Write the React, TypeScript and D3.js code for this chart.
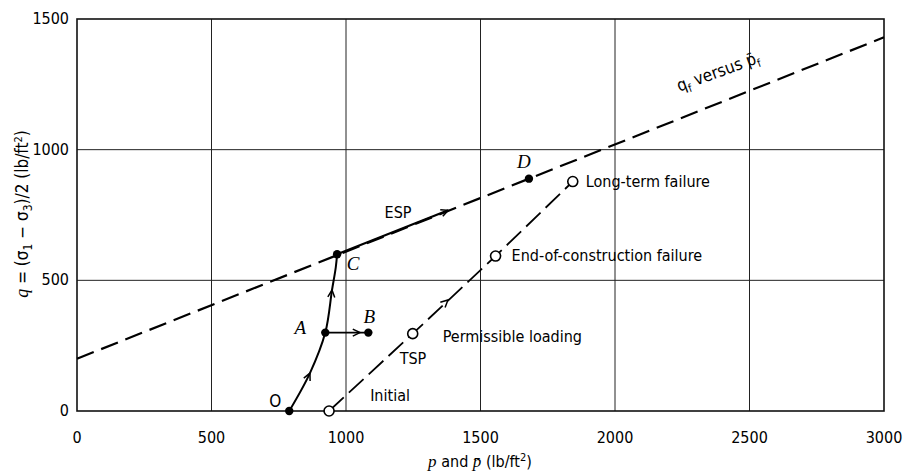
import * as d3 from 'd3';

// axis ticks
const xTicks = [0, 500, 1000, 1500, 2000, 2500, 3000];
const yTicks = [0, 500, 1000, 1500];

// failure envelope q_f versus p_f
const envelopeP = [0, 3000];
const envelopeQ = [200, 1430];

// effective stress path O -> A -> C
const espP = [789, 866, 923, 948, 962, 967];
const espQ = [0, 145, 300, 463, 550, 600];
// ESP continuing along the envelope from C
const espFailP = [967, 1380];
const espFailQ = [600, 768];

// A -> B
const abP = [923, 1083];
const abQ = [300, 300];

// total stress path
const tspP = [937, 1248, 1556, 1843];
const tspQ = [0, 296, 593, 878];
const tspNames = ['Initial', 'Permissible loading', 'End-of-construction failure', 'Long-term failure'];

// point D on the envelope
const dP = 1680;
const dQ = 889;

// arrows: position and direction in data units
const arrowP = [866, 948, 1052, 1380, 1379];
const arrowQ = [145, 463, 300, 768, 425];
const arrowDP = [134, 30, 1, 1, 906];
const arrowDQ = [300, 300, 0, 0.41, 878];

const W = 903;
const H = 472;
const FONT = '"DejaVu Sans Condensed", "Liberation Sans Narrow", "Liberation Sans", sans-serif';
const SERIF = '"Liberation Serif", "DejaVu Serif", serif';

const App = () => {
  const x = d3.scaleLinear().domain([0, 3000]).range([77, 884]);
  const y = d3.scaleLinear().domain([0, 1500]).range([411, 19]);

  const line = d3.line<number>()
    .x(i => x(espP[i]))
    .y(i => y(espQ[i]))
    .curve(d3.curveCatmullRom.alpha(0.5));

  const straight = (ps: number[], qs: number[]) =>
    d3.line<number>().x(i => x(ps[i])).y(i => y(qs[i]))(ps.map((_, i) => i)) || '';

  const arrowPath = (i: number) => {
    const px = x(arrowP[i]);
    const py = y(arrowQ[i]);
    const dx = x(arrowP[i] + arrowDP[i]) - px;
    const dy = y(arrowQ[i] + arrowDQ[i]) - py;
    const a = Math.atan2(dy, dx);
    const L = 8;
    const s = 0.45;
    const x1 = px - L * Math.cos(a - s);
    const y1 = py - L * Math.sin(a - s);
    const x2 = px - L * Math.cos(a + s);
    const y2 = py - L * Math.sin(a + s);
    return `M${x1},${y1}L${px},${py}L${x2},${y2}`;
  };

  const labelOffsets = [
    { dx: 61, dy: -10 },
    { dx: 30, dy: 8 },
    { dx: 16, dy: 5 },
    { dx: 13, dy: 5 },
  ];

  return (
    <svg width={W} height={H} style={{ position: 'absolute', left: 0, top: 0, background: '#fff' }}>
      {/* grid */}
      {xTicks.slice(1, -1).map(t => (
        <line key={'gx' + t} x1={x(t)} x2={x(t)} y1={y(0)} y2={y(1500)} stroke="#222" strokeWidth={1} />
      ))}
      {yTicks.slice(1, -1).map(t => (
        <line key={'gy' + t} x1={x(0)} x2={x(3000)} y1={y(t)} y2={y(t)} stroke="#222" strokeWidth={1} />
      ))}
      <rect x={x(0)} y={y(1500)} width={x(3000) - x(0)} height={y(0) - y(1500)} fill="none" stroke="#111" strokeWidth={1.6} />

      {/* tick labels */}
      {xTicks.map(t => (
        <text key={'tx' + t} x={x(t)} y={443} textAnchor="middle" fontFamily={FONT} fontSize={16}>{t}</text>
      ))}
      {yTicks.map(t => (
        <text key={'ty' + t} x={69} y={y(t) + 5} textAnchor="end" fontFamily={FONT} fontSize={16}>{t}</text>
      ))}

      {/* axis titles */}
      <text x={480} y={467} textAnchor="middle" fontFamily={FONT} fontSize={16}>
        <tspan fontFamily={SERIF} fontStyle="italic" fontSize={17}>p</tspan> and <tspan fontFamily={SERIF} fontStyle="italic" fontSize={17}>{'p\u0304'}</tspan> (lb/ft<tspan dy={-6} fontSize={11}>2</tspan><tspan dy={6}>)</tspan>
      </text>
      <text transform={`translate(28,214) rotate(-90)`} textAnchor="middle" fontFamily={FONT} fontSize={17}>
        <tspan fontFamily={SERIF} fontStyle="italic" fontSize={18}>q</tspan> = (σ<tspan dy={4} fontSize={12}>1</tspan><tspan dy={-4}> − σ</tspan><tspan dy={4} fontSize={12}>3</tspan><tspan dy={-4}>)/2 (lb/ft</tspan><tspan dy={-6} fontSize={11}>2</tspan><tspan dy={6}>)</tspan>
      </text>

      {/* failure envelope */}
      <path d={straight(envelopeP, envelopeQ)} fill="none" stroke="#000" strokeWidth={2.2} strokeDasharray="18 8" />
      <text transform={`translate(720,77) rotate(-20)`} textAnchor="middle" fontFamily={FONT} fontSize={17}>
        q<tspan dy={4} fontSize={11}>f</tspan><tspan dy={-4}> versus </tspan>{'p\u0304'}<tspan dy={4} fontSize={11}>f</tspan>
      </text>

      {/* ESP */}
      <path d={line(espP.map((_, i) => i)) || ''} fill="none" stroke="#000" strokeWidth={2} />
      <path d={straight(espFailP, espFailQ)} fill="none" stroke="#000" strokeWidth={2.2} />
      <path d={straight(abP, abQ)} fill="none" stroke="#000" strokeWidth={1.6} />

      {/* TSP */}
      <path d={straight(tspP, tspQ)} fill="none" stroke="#000" strokeWidth={1.8} strokeDasharray="20 7" />

      {/* arrows */}
      {arrowP.map((_, i) => (
        <path key={'a' + i} d={arrowPath(i)} fill="none" stroke="#000" strokeWidth={1.5} />
      ))}

      {/* filled points */}
      {[0, 2, 5].map(i => (
        <circle key={'e' + i} cx={x(espP[i])} cy={y(espQ[i])} r={4.2} fill="#000" />
      ))}
      <circle cx={x(abP[1])} cy={y(abQ[1])} r={4.2} fill="#000" />
      <circle cx={x(dP)} cy={y(dQ)} r={4.2} fill="#000" />

      {/* open points */}
      {tspP.map((p, i) => (
        <circle key={'t' + i} cx={x(p)} cy={y(tspQ[i])} r={5} fill="#fff" stroke="#000" strokeWidth={1.6} />
      ))}
      {tspP.map((p, i) => (
        <text key={'tl' + i} x={x(p) + labelOffsets[i].dx} y={y(tspQ[i]) + labelOffsets[i].dy}
          textAnchor={i === 0 ? 'middle' : 'start'} fontFamily={FONT} fontSize={16}>{tspNames[i]}</text>
      ))}

      {/* point letters */}
      <text x={x(espP[0]) - 14} y={y(espQ[0]) - 4} fontFamily={FONT} fontSize={17} textAnchor="middle">O</text>
      <text x={x(espP[2]) - 25} y={y(espQ[2]) + 1} fontFamily={SERIF} fontStyle="italic" fontSize={19} textAnchor="middle">A</text>
      <text x={x(abP[1]) + 1} y={y(abQ[1]) - 10} fontFamily={SERIF} fontStyle="italic" fontSize={19} textAnchor="middle">B</text>
      <text x={x(espP[5]) + 16} y={y(espQ[5]) + 16} fontFamily={SERIF} fontStyle="italic" fontSize={19} textAnchor="middle">C</text>
      <text x={x(dP) - 5} y={y(dQ) - 11} fontFamily={SERIF} fontStyle="italic" fontSize={19} textAnchor="middle">D</text>
      <text x={398} y={218} fontFamily={FONT} fontSize={16} textAnchor="middle">ESP</text>
      <text x={413} y={364} fontFamily={FONT} fontSize={16} textAnchor="middle">TSP</text>
    </svg>
  );
};

export default App;
